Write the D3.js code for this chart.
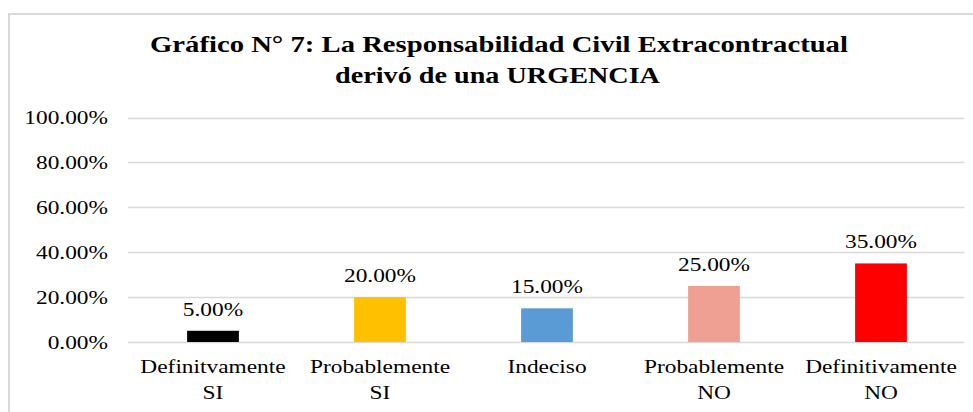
<!DOCTYPE html>
<html><head><meta charset="utf-8">
<script src="https://cdnjs.cloudflare.com/ajax/libs/d3/7.8.5/d3.min.js"></script>
<style>
html,body{margin:0;padding:0;background:#fff;}
svg{display:block;}
text{font-family:"Liberation Serif","Times New Roman",serif;fill:#000;}
</style></head>
<body>
<script>
const titleLines = ["Gráfico N° 7: La Responsabilidad Civil Extracontractual", "derivó de una URGENCIA"];
const categories = [["Definitvamente","SI"],["Probablemente","SI"],["Indeciso"],["Probablemente","NO"],["Definitivamente","NO"]];
const values = [0.05, 0.20, 0.15, 0.25, 0.35];
const colors = ["#000000","#FFC000","#5B9BD5","#F0A092","#FF0000"];
const yTicks = [0, 0.2, 0.4, 0.6, 0.8, 1.0];

const W = 973, H = 412;
const svg = d3.select("body").append("svg").attr("width", W).attr("height", H);

// chart border (only top-left visible)
svg.append("rect").attr("x", 9).attr("y", 14).attr("width", 1000).attr("height", 500)
  .attr("fill", "none").attr("stroke", "#d9d9d9").attr("stroke-width", 2);

const SX = 1.23;
function stext(g, x, y, str, anchor, size, weight, sx) {
  return g.append("text")
    .attr("transform", `translate(${x},${y}) scale(${sx||SX},1)`)
    .attr("text-anchor", anchor)
    .style("font-size", size + "px")
    .style("font-weight", weight || "normal")
    .text(str);
}

const x = d3.scaleBand().domain(d3.range(categories.length)).range([129.5, 964.5])
  .paddingInner(0.69).paddingOuter(0.345);
const y = d3.scaleLinear().domain([0, 1]).range([342, 117.5]);

// gridlines
svg.append("g").selectAll("line").data(yTicks).join("line")
  .attr("x1", 128).attr("x2", 964.5)
  .attr("y1", d => Math.round(y(d)) + 0.5).attr("y2", d => Math.round(y(d)) + 0.5)
  .attr("stroke", "#d9d9d9").attr("stroke-width", 1.3);

// y tick labels
const fmt = d3.format(".2%");
const yg = svg.append("g");
yTicks.forEach(t => stext(yg, 108, y(t) + 6.5, fmt(t), "end", 19));

// bars
svg.append("g").selectAll("rect").data(values).join("rect")
  .attr("x", (d, i) => x(i)).attr("width", x.bandwidth())
  .attr("y", d => y(d)).attr("height", d => y(0) - y(d))
  .attr("fill", (d, i) => colors[i]);

// value labels
const vg = svg.append("g");
values.forEach((v, i) => stext(vg, x(i) + x.bandwidth() / 2, y(v) - 15, fmt(v), "middle", 19));

// category labels
const cg = svg.append("g");
categories.forEach((lines, i) => {
  lines.forEach((l, j) => stext(cg, x(i) + x.bandwidth() / 2, 373 + j * 26, l, "middle", 19));
});

// title
const tg = svg.append("g");
const tTargets = [698, 325];
const tCenters = [499, 497.5];
titleLines.forEach((l, j) => {
  const t = tg.append("text").attr("text-anchor", "middle")
    .style("font-size", "22.5px").style("font-weight", "bold").text(l);
  const w = t.node().getComputedTextLength();
  const sx = tTargets[j] / w;
  t.attr("transform", `translate(${tCenters[j]},${52 + j * 31}) scale(${sx},1)`);
});
</script>
</body></html>
